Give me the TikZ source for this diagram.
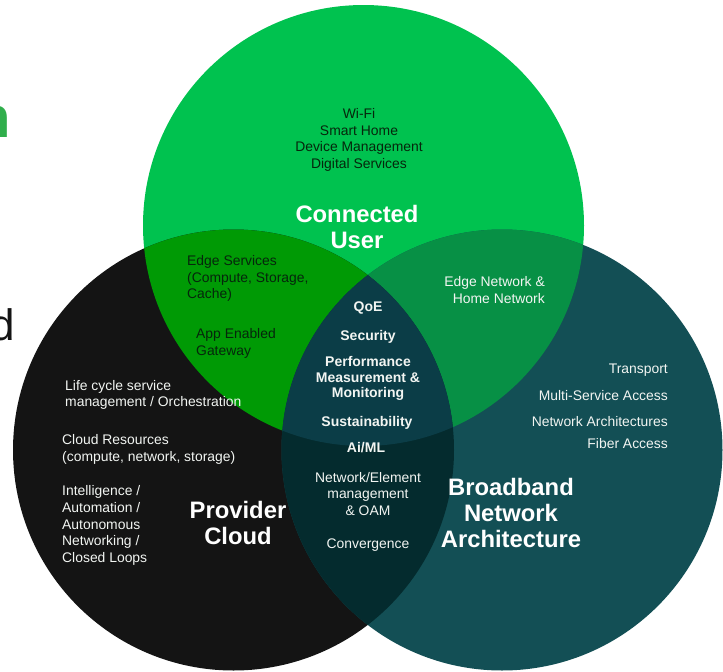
\documentclass[tikz,border=0pt]{standalone}
\usepackage{fontspec}
\setmainfont{Liberation Sans}
\definecolor{cgreen}{HTML}{00C24F}
\definecolor{cblack}{HTML}{141414}
\definecolor{cteal}{HTML}{134F55}
\definecolor{gb}{HTML}{009A05}
\definecolor{gt}{HTML}{079045}
\definecolor{bt}{HTML}{042B2E}
\definecolor{gbt}{HTML}{0B3D47}
\definecolor{fragn}{HTML}{30AE4C}
\definecolor{txtlight}{HTML}{F2F5F2}
\definecolor{txtdark}{HTML}{06260C}
\tikzset{
  small/.style={font=\fontsize{13.9}{16.6}\selectfont, inner sep=0pt, text=txtlight, align=center},
  smallb/.style={small, font=\fontsize{14}{15.6}\selectfont\bfseries},
  dark/.style={text=txtdark},
  big/.style={font=\fontsize{23.8}{26}\selectfont\bfseries, inner sep=0pt, text=white, align=center},
  lft/.style={align=left, anchor=west},
  rgt/.style={align=right, anchor=east},
}
\begin{document}
\begin{tikzpicture}[x=1pt,y=-1pt]
\useasboundingbox (0,0) rectangle (723,672);
\def\cg{(363.5,225.5) circle (220.5)}
\def\cb{(233.5,450) circle (220.5)}
\def\ct{(502,450) circle (220.5)}
\begin{scope}
  \clip (0,0) rectangle (723,672);
  \fill[cgreen] \cg;
  \fill[cblack] \cb;
  \fill[cteal] \ct;
  \begin{scope}\clip \cg; \fill[gb] \cb; \fill[gt] \ct; \end{scope}
  \begin{scope}\clip \cb; \fill[bt] \ct; \end{scope}
  \begin{scope}\clip \cg; \clip \cb; \fill[gbt] \ct; \end{scope}
  \node[anchor=base east, inner sep=0pt, text=fragn, font=\fontsize{58}{58}\selectfont\bfseries] (frag1) at (11,137) {n};
  \node[anchor=base east, inner sep=0pt, text=cblack, font=\fontsize{44}{44}\selectfont] (frag2) at (15,340) {d};
\end{scope}
\node[small,dark] (wifi) at (359,140) {Wi-Fi\\Smart Home\\Device Management\\Digital Services};
\node[big] (user) at (357,227) {Connected\\User};
\node[small,dark,lft] (edge) at (187,278.5) {Edge Services\\(Compute, Storage,\\Cache)};
\node[small,dark,lft] (app) at (196,343.5) {App Enabled\\Gateway};
\node[small,rgt] (edgenet) at (545,290) {Edge Network \&\\Home Network};
\node[smallb] (qoe) at (368,308) {QoE};
\node[smallb] (sec) at (368,337) {Security};
\node[smallb] (perf) at (368,378.5) {Performance\\Measurement \&\\Monitoring};
\node[smallb] (sus) at (367,423) {Sustainability};
\node[smallb] (ai) at (366,448) {Ai/ML};
\node[small] (nem) at (368,494) {Network/Element\\management\\\& OAM};
\node[small] (conv) at (368,545) {Convergence};
\node[big] (bna) at (511,513) {Broadband\\Network\\Architecture};
\node[big] (pc) at (238,523) {Provider\\Cloud};
\node[small,lft] (life) at (65,395) {Life cycle service\\management / Orchestration};
\node[small,lft] (res) at (62,449.5) {Cloud Resources\\(compute, network, storage)};
\node[small,lft] (intel) at (62,525.5) {Intelligence /\\Automation /\\Autonomous\\Networking /\\Closed Loops};
\node[small,rgt] (trans) at (668,370) {Transport};
\node[small,rgt] (multi) at (668,396) {Multi-Service Access};
\node[small,rgt] (arch) at (668,422) {Network Architectures};
\node[small,rgt] (fiber) at (668,444) {Fiber Access};
\end{tikzpicture}
\end{document}
